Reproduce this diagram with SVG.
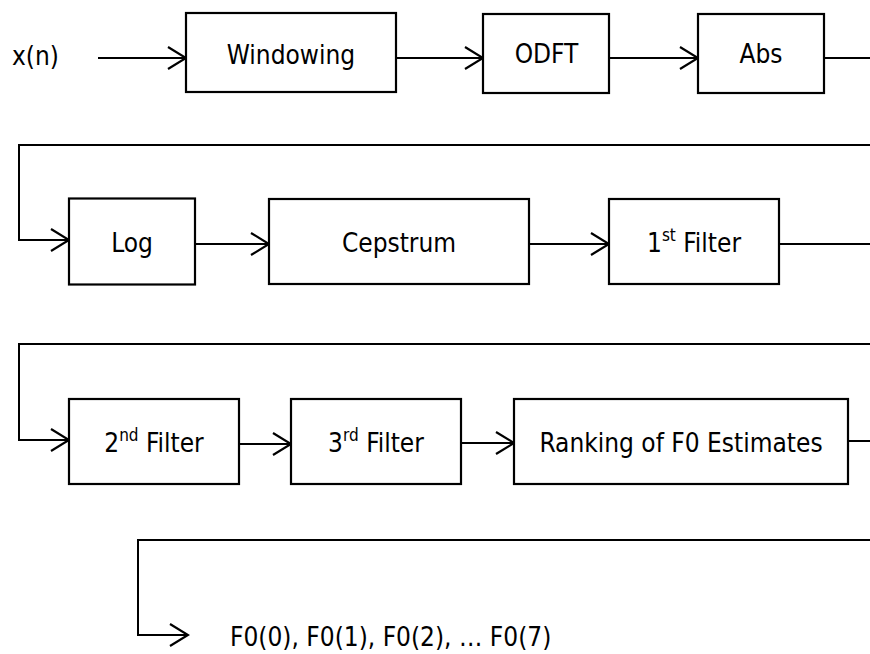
<svg xmlns="http://www.w3.org/2000/svg" width="870" height="654" viewBox="0 0 870 654">
<defs>
<marker id="arr" viewBox="0 0 21 24" refX="19" refY="12" markerWidth="21" markerHeight="24" markerUnits="userSpaceOnUse" orient="auto">
<path d="M1,1 L19,12 L1,23" fill="none" stroke="#000" stroke-width="2.2"/>
</marker>
<style>
.box{fill:#fff;stroke:#000;stroke-width:2.2}
.t{font-family:"DejaVu Sans Condensed","Liberation Sans",Arial,sans-serif;font-stretch:condensed;font-size:26px;fill:#000}
.c{text-anchor:middle}
.ln{fill:none;stroke:#000;stroke-width:2}
.sup{font-size:17px}
</style>
</defs>
<rect width="870" height="654" fill="#fff"/>
<g id="connectors">
<line class="ln" x1="98" y1="58" x2="186" y2="58" marker-end="url(#arr)"/>
<line class="ln" x1="396" y1="58" x2="483" y2="58" marker-end="url(#arr)"/>
<line class="ln" x1="609" y1="58" x2="698" y2="58" marker-end="url(#arr)"/>
<line class="ln" x1="824" y1="58" x2="870" y2="58"/>
<polyline class="ln" points="870,145 19,145 19,240 69,240" marker-end="url(#arr)"/>
<line class="ln" x1="195" y1="244" x2="269" y2="244" marker-end="url(#arr)"/>
<line class="ln" x1="529" y1="244" x2="609" y2="244" marker-end="url(#arr)"/>
<line class="ln" x1="779" y1="244" x2="870" y2="244"/>
<polyline class="ln" points="870,344 19,344 19,440 69,440" marker-end="url(#arr)"/>
<line class="ln" x1="239" y1="444" x2="291" y2="444" marker-end="url(#arr)"/>
<line class="ln" x1="461" y1="443" x2="514" y2="443" marker-end="url(#arr)"/>
<line class="ln" x1="848" y1="441" x2="870" y2="441"/>
<polyline class="ln" points="870,540 138,540 138,635 188,635" marker-end="url(#arr)"/>
</g>
<g id="input"><text class="t" x="12" y="65">x(n)</text></g>
<g id="windowing"><rect class="box" x="186" y="13" width="210" height="79"/><text class="t c" x="291" y="64">Windowing</text></g>
<g id="odft"><rect class="box" x="483" y="14" width="126" height="79"/><text class="t c" x="546.5" y="63">ODFT</text></g>
<g id="abs"><rect class="box" x="698" y="14" width="126" height="79"/><text class="t c" x="761" y="63">Abs</text></g>
<g id="log"><rect class="box" x="69" y="198.5" width="126" height="86"/><text class="t c" x="132" y="251.5">Log</text></g>
<g id="cepstrum"><rect class="box" x="269" y="199" width="260" height="85"/><text class="t c" x="399" y="251.5">Cepstrum</text></g>
<g id="filter1"><rect class="box" x="609" y="199" width="170" height="85"/><text class="t c" x="694" y="251.5">1<tspan class="sup" dy="-11">st</tspan><tspan dy="11"> Filter</tspan></text></g>
<g id="filter2"><rect class="box" x="69" y="399" width="170" height="85"/><text class="t c" x="154" y="451.5">2<tspan class="sup" dy="-11">nd</tspan><tspan dy="11"> Filter</tspan></text></g>
<g id="filter3"><rect class="box" x="291" y="399" width="170" height="85"/><text class="t c" x="376" y="451.5">3<tspan class="sup" dy="-11">rd</tspan><tspan dy="11"> Filter</tspan></text></g>
<g id="ranking"><rect class="box" x="514" y="399" width="334" height="85"/><text class="t c" x="681" y="451.5">Ranking of F0 Estimates</text></g>
<g id="output"><text class="t" x="230" y="646">F0(0), F0(1), F0(2), … F0(7)</text></g>
</svg>
